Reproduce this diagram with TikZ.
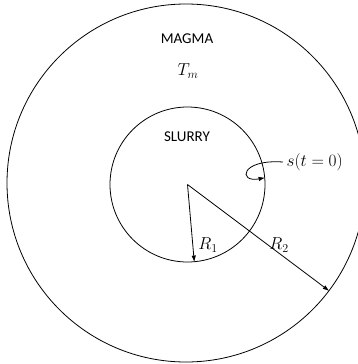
\documentclass[tikz,border=0pt]{standalone}
\usepackage{fontspec}
\setmainfont{Carlito}
\usetikzlibrary{arrows,arrows.meta,positioning}

\begin{document}
\begin{tikzpicture}[x=1pt,y=-1pt]

\tikzset{region/.style = {shape=circle,draw,line width=0.8pt,inner sep=0pt}}
\tikzset{edge1/.style = {-{Latex[length=6.5pt,width=4.5pt]},line width=0.8pt}}
\tikzset{lbl/.style = {font=\fontsize{15}{18}\selectfont}}
\tikzset{mlbl/.style = {font=\fontsize{17}{20}\selectfont}}

\useasboundingbox (0,0) rectangle (357,364);

% circles
\node[region,minimum size=358] (magma) at (186,183) {};
\node[region,minimum size=155] (slurry) at (187.5,184.5) {};
\coordinate (o) at (187.5,184.5);

% labels
\node[lbl] (magmalbl) at (187,39) {MAGMA};
\node[mlbl] (tm) at (188,71) {$T_m$};
\node[lbl] (slurrylbl) at (187,137) {SLURRY};
\node[mlbl] (r1) at (208,245) {$R_1$};
\node[mlbl] (r2) at (279,245) {$R_2$};
\node[mlbl,anchor=west] (s0) at (283,162) {$s(t=0)$};

% radii
\draw[edge1] (o) to (slurry.-85);
\draw[edge1] (o) to (magma.-37);
\draw[edge1] (s0.west) .. controls (240,159) and (238,183) .. (slurry.5);

\end{tikzpicture}
\end{document}
